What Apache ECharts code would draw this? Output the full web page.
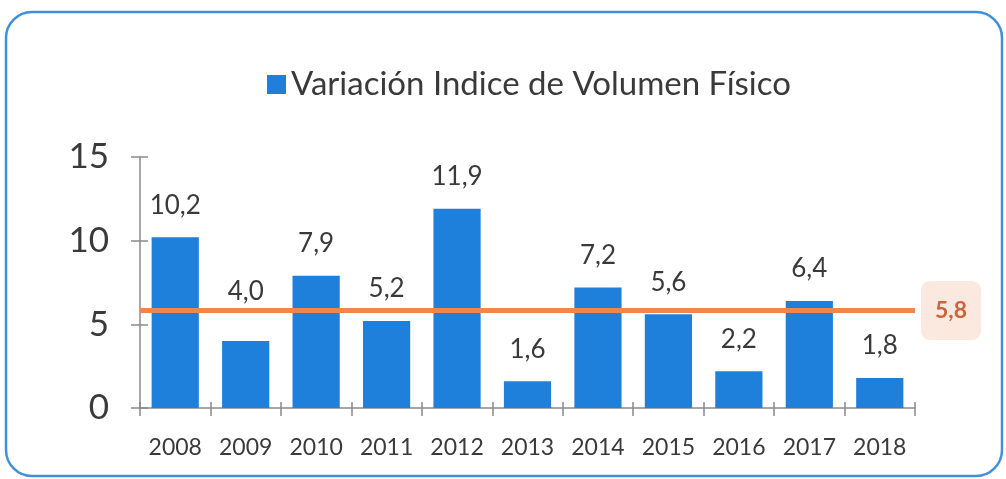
<!DOCTYPE html>
<html>
<head>
<meta charset="utf-8">
<script src="https://cdn.jsdelivr.net/npm/echarts@6/dist/echarts.min.js"></script>
<style>
  html, body { margin: 0; padding: 0; background: #fff; }
  #chart { width: 1006px; height: 479px; }
</style>
</head>
<body>
<div id="chart"></div>
<script>
// datos
const years = ["2008", "2009", "2010", "2011", "2012", "2013", "2014", "2015", "2016", "2017", "2018"];
const variacion = [10.2, 4.0, 7.9, 5.2, 11.9, 1.6, 7.2, 5.6, 2.2, 6.4, 1.8];
const yTicks = [0, 5, 10, 15];
const seriesName = "Variación Indice de Volumen Físico";

const fmt = (v) => Number(v).toFixed(1).replace(".", ",");
const font = "Lato, 'Open Sans', sans-serif";
const axisColor = "#8a8a8a";

// la etiqueta de 2009 queda por encima de la línea de promedio
const barData = variacion.map((v, i) =>
  i === 1 ? { value: v, label: { distance: 36 } } : v
);

const chart = echarts.init(document.getElementById("chart"));
const option = {
  animation: false,
  textStyle: { fontFamily: font },
  graphic: [
    {
      type: "rect",
      shape: { x: 6, y: 12, width: 996, height: 464, r: 26 },
      style: { fill: "none", stroke: "#3f8fda", lineWidth: 2.5 },
      z: 0
    }
  ],
  legend: {
    data: [seriesName],
    left: 262,
    top: 63,
    icon: "rect",
    itemWidth: 19,
    itemHeight: 19,
    itemGap: 8,
    textStyle: { fontSize: 33, color: "#3a3a3a", fontFamily: font }
  },
  grid: { left: 140, right: 91, top: 157, bottom: 71 },
  xAxis: [
    {
      type: "category",
      data: years,
      axisLine: { lineStyle: { color: axisColor, width: 1.5 } },
      axisTick: { show: true, length: 8, lineStyle: { color: axisColor, width: 1.5 } },
      axisLabel: { fontSize: 23, color: "#3a3a3a", margin: 28, fontFamily: font }
    },
    {
      type: "category",
      data: years,
      position: "bottom",
      axisLine: { show: false },
      axisTick: { show: true, inside: true, length: 6, lineStyle: { color: axisColor, width: 1.5 } },
      axisLabel: { show: false }
    }
  ],
  yAxis: [
    {
      type: "value",
      min: yTicks[0],
      max: yTicks[yTicks.length - 1],
      interval: 5,
      axisLine: { show: true, lineStyle: { color: axisColor, width: 1.5 } },
      axisTick: { show: true, length: 9, lineStyle: { color: axisColor, width: 1.5 } },
      axisLabel: { fontSize: 35, color: "#3a3a3a", margin: 31, fontFamily: font },
      splitLine: { show: false }
    },
    {
      type: "value",
      position: "left",
      min: yTicks[0],
      max: yTicks[yTicks.length - 1],
      interval: 5,
      axisLine: { show: false },
      axisTick: { show: true, inside: true, length: 8, lineStyle: { color: axisColor, width: 1.5 } },
      axisLabel: { show: false },
      splitLine: { show: false }
    }
  ],
  series: [
    {
      name: seriesName,
      type: "bar",
      data: barData,
      barWidth: "67%",
      itemStyle: { color: "#1f80dc" },
      label: {
        show: true,
        position: "top",
        distance: 19,
        fontSize: 26,
        color: "#3a3a3a",
        fontFamily: font,
        formatter: (p) => fmt(p.value)
      },
      markLine: {
        symbol: "none",
        silent: true,
        data: [{ type: "average" }],
        lineStyle: { color: "#f0864a", width: 5, type: "solid" },
        label: {
          show: true,
          position: "end",
          distance: 6,
          formatter: (p) => fmt(p.value),
          fontSize: 23,
          fontWeight: "bold",
          color: "#c8653c",
          backgroundColor: "#fbe9df",
          borderRadius: 9,
          padding: [19, 14, 17, 14],
          fontFamily: font
        }
      }
    }
  ]
};
chart.setOption(option);
</script>
</body>
</html>
